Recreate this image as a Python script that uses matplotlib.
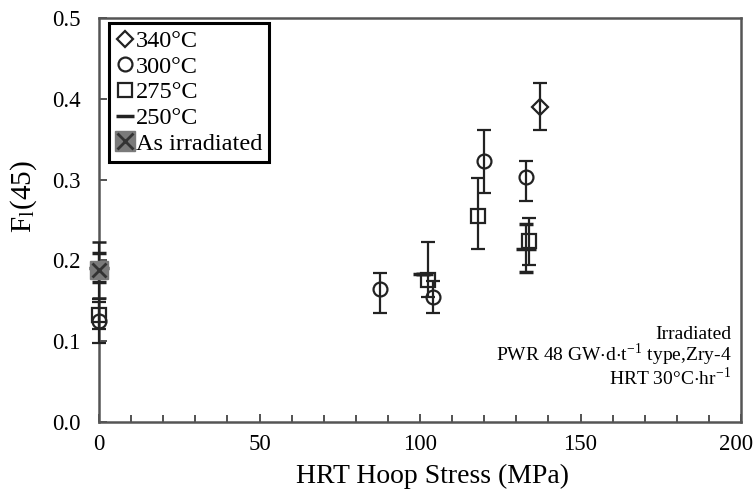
import matplotlib
matplotlib.use("Agg")
import matplotlib.pyplot as plt
import matplotlib.transforms as mtransforms
from matplotlib.ticker import MultipleLocator, FormatStrFormatter

plt.rcParams['font.family'] = ['Liberation Serif', 'DejaVu Serif']
plt.rcParams['mathtext.fontset'] = 'stix'

# HRT hoop stress (MPa), F_l(45) and error bars (lower, upper) per temperature
stress_340 = [137.5]
f_340 = [0.390]
err_340 = ([0.028], [0.029])

stress_300 = [0.0, 87.5, 104.0, 120.0, 133.0]
f_300 = [0.125, 0.165, 0.155, 0.323, 0.303]
err_300 = ([0.027, 0.030, 0.020, 0.040, 0.029], [0.027, 0.019, 0.020, 0.039, 0.020])

stress_275 = [0.0, 102.5, 118.0, 134.0]
f_275 = [0.132, 0.176, 0.255, 0.224]
err_275 = ([0.017, 0.021, 0.041, 0.030], [0.017, 0.047, 0.047, 0.029])

stress_250 = [0.0, 101.0, 133.0]
f_250 = [0.191, 0.183, 0.214]
err_250 = ([0.018, 0.000, 0.028], [0.018, 0.000, 0.031])

stress_irr = [0.0]
f_irr = [0.188]
err_irr = ([0.035], [0.035])

x_ticks = [0, 50, 100, 150, 200]
y_ticks = [0.0, 0.1, 0.2, 0.3, 0.4, 0.5]

fig = plt.figure(figsize=(7.54, 4.92), dpi=100)
ax = fig.add_axes([0.1313, 0.1423, 0.8515, 0.8211])

ebkw = dict(ecolor='#222222', elinewidth=1.6, capsize=5, capthick=1.8, linestyle='none', zorder=3)
mkw = dict(markerfacecolor='none', markeredgecolor='#222222', markeredgewidth=1.6)


def unclip(container):
    data_line, caplines, barcols = container.lines
    if data_line is not None:
        data_line.set_clip_on(False)
    for a in caplines:
        a.set_clip_on(False)
    for c in barcols:
        c.set_clip_on(False)


unclip(ax.errorbar(stress_250, f_250, yerr=err_250, fmt='_', color='#222222',
                   markersize=14, markeredgewidth=2.5, **ebkw))
unclip(ax.errorbar(stress_275, f_275, yerr=err_275, fmt='s', markersize=10, **mkw, **ebkw))
unclip(ax.errorbar(stress_300, f_300, yerr=err_300, fmt='o', markersize=10, **mkw, **ebkw))
unclip(ax.errorbar(stress_340, f_340, yerr=err_340, fmt='D', markersize=8, **mkw, **ebkw))
unclip(ax.errorbar(stress_irr, f_irr, yerr=err_irr, fmt='none', **ebkw))
ax.plot(stress_irr, f_irr, 's', markersize=13, color='#7a7a7a', zorder=4, clip_on=False)
ax.plot(stress_irr, f_irr, 'x', markersize=10, markeredgewidth=2, color='#333333',
        zorder=5, clip_on=False)

ax.set_xlim(0, 200)
ax.set_ylim(0.0, 0.5)
ax.set_xticks(x_ticks)
ax.set_yticks(y_ticks)
ax.xaxis.set_minor_locator(MultipleLocator(10))
ax.yaxis.set_major_formatter(FormatStrFormatter('%.1f'))
ax.tick_params(axis='both', which='both', direction='in', labelsize=16.5, color='#444444')
ax.tick_params(axis='both', which='major', length=6, width=1.3)
ax.tick_params(axis='x', which='major', pad=9)
ax.tick_params(axis='y', which='major', pad=13.5)
ax.tick_params(axis='x', which='minor', length=5, width=1.3)
ax.tick_params(axis='y', which='minor', left=False)
for s in ax.spines.values():
    s.set_color('#555555')
    s.set_linewidth(1.8)

ax.set_xlabel('HRT Hoop Stress (MPa)', fontsize=20, va='center')
ax.xaxis.set_label_coords(0.519, -0.134)
ax.set_ylabel(r'F$_\mathregular{l}$(45)', fontsize=21, va='center')
ax.yaxis.set_label_coords(-0.118, 0.557)

# legend handles
h340, = ax.plot([], [], 'D', markersize=8, **mkw)
h300, = ax.plot([], [], 'o', markersize=10, **mkw)
h275, = ax.plot([], [], 's', markersize=10, **mkw)
h250, = ax.plot([], [], '_', markersize=13, markeredgewidth=2.5, color='#222222')
hsq, = ax.plot([], [], 's', markersize=14, color='#7a7a7a')
hx, = ax.plot([], [], 'x', markersize=11, markeredgewidth=2, color='#333333')
leg = ax.legend([h340, h300, h275, h250, (hsq, hx)],
                ['340°C', '300°C', '275°C', '250°C', 'As irradiated'],
                loc='upper left', bbox_to_anchor=(0.0155, 0.988), fontsize=17.5,
                handlelength=0.7, handletextpad=0.1, labelspacing=0.15,
                borderpad=0.3, borderaxespad=0.0, fancybox=False, framealpha=1)
leg.get_frame().set_edgecolor('black')
leg.get_frame().set_linewidth(2.2)

ax.text(0.985, 0.238, 'Irradiated\n'
        r'PWR 48 GW$\cdot$d$\cdot$t$^{\mathregular{-1}}$ type,Zry-4' '\n'
        r'HRT 30°C$\cdot$hr$^{\mathregular{-1}}$',
        transform=ax.transAxes, ha='right', va='top', fontsize=14, linespacing=0.95)

# nudge the rightmost x tick label so it stays inside the figure
fig.canvas.draw()
shift = mtransforms.ScaledTranslation(-5 / 100, 0, fig.dpi_scale_trans)
for tick in ax.xaxis.get_major_ticks():
    if tick.get_loc() == x_ticks[-1]:
        tick.label1.set_transform(tick.label1.get_transform() + shift)

fig.savefig('out.png', dpi=100)
